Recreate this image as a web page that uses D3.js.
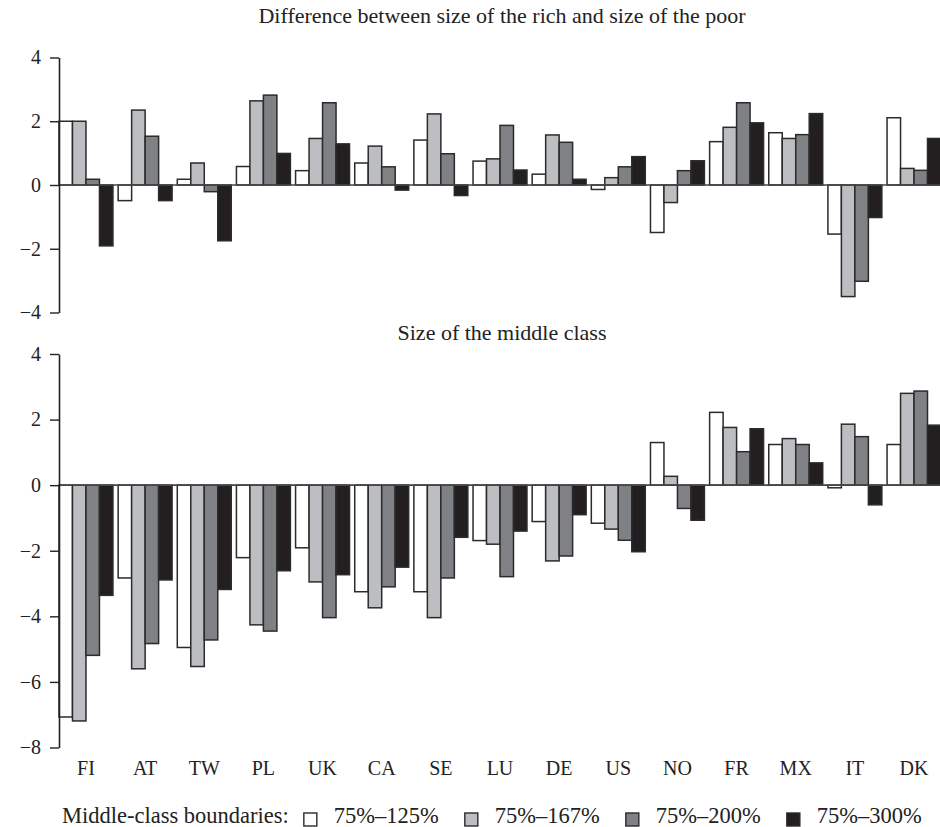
<!DOCTYPE html>
<html>
<head>
<meta charset="utf-8">
<script src="https://cdn.jsdelivr.net/npm/d3@7"></script>
<style>
  body { margin: 0; background: #fff; }
  text { font-family: 'Liberation Serif', 'DejaVu Serif', serif; fill: #222; }
</style>
</head>
<body>
<svg id="chart" width="940" height="827"></svg>
<script>
let countries = ['FI', 'AT', 'TW', 'PL', 'UK', 'CA', 'SE', 'LU', 'DE', 'US', 'NO', 'FR', 'MX', 'IT', 'DK']
let boundaries = ['75%–125%', '75%–167%', '75%–200%', '75%–300%']

// difference between size of the rich and size of the poor
let gap125 = [2.0, -0.49, 0.18, 0.58, 0.45, 0.69, 1.41, 0.75, 0.34, -0.14, -1.49, 1.36, 1.64, -1.54, 2.11]
let gap167 = [2.0, 2.35, 0.69, 2.64, 1.46, 1.22, 2.23, 0.82, 1.57, 0.23, -0.55, 1.81, 1.46, -3.50, 0.52]
let gap200 = [0.18, 1.53, -0.21, 2.82, 2.58, 0.57, 0.98, 1.87, 1.34, 0.57, 0.45, 2.58, 1.58, -3.02, 0.46]
let gap300 = [-1.91, -0.49, -1.75, 0.99, 1.29, -0.16, -0.33, 0.47, 0.18, 0.89, 0.76, 1.95, 2.24, -1.02, 1.46]

// size of the middle class
let mid125 = [-7.07, -2.83, -4.95, -2.21, -1.91, -3.25, -3.25, -1.69, -1.11, -1.16, 1.30, 2.22, 1.24, -0.08, 1.24]
let mid167 = [-7.19, -5.60, -5.53, -4.26, -2.95, -3.74, -4.04, -1.80, -2.31, -1.34, 0.27, 1.76, 1.42, 1.86, 2.80]
let mid200 = [-5.19, -4.83, -4.72, -4.45, -4.04, -3.10, -2.83, -2.79, -2.16, -1.68, -0.71, 1.02, 1.24, 1.48, 2.87]
let mid300 = [-3.36, -2.89, -3.18, -2.61, -2.73, -2.50, -1.59, -1.40, -0.90, -2.03, -1.07, 1.72, 0.68, -0.60, 1.83]

let topTicks = [-4, -2, 0, 2, 4]
let bottomTicks = [-8, -6, -4, -2, 0, 2, 4]

let fills = ['#ffffff', '#bdbec2', '#808185', '#231f20']
let strokeColor = '#2b2b2b'

let svg = d3.select('#chart')
let left = 59

let x = d3.scaleBand().domain(countries).range([left, 941]).paddingInner(0.088).paddingOuter(0)
let xs = d3.scaleBand().domain(d3.range(4)).range([0, x.bandwidth()])

function panel (series, yDomain, yRange, ticks, title, titleY) {
  let y = d3.scaleLinear().domain(yDomain).range(yRange)
  let g = svg.append('g')

  let rows = countries.map((c, i) => series.map((s, k) => ({ country: c, k: k, v: s[i] })))

  g.selectAll('.group')
    .data(rows)
    .enter()
    .append('g')
    .attr('class', 'group')
    .attr('transform', d => 'translate(' + x(d[0].country) + ',0)')
    .selectAll('rect')
    .data(d => d)
    .enter()
    .append('rect')
    .attr('x', d => xs(d.k))
    .attr('width', xs.bandwidth())
    .attr('y', d => y(Math.max(0, d.v)))
    .attr('height', d => Math.abs(y(d.v) - y(0)))
    .attr('fill', d => fills[d.k])
    .attr('stroke', strokeColor)
    .attr('stroke-width', 1.5)

  // zero line
  g.append('line')
    .attr('x1', left).attr('x2', 940)
    .attr('y1', y(0)).attr('y2', y(0))
    .attr('stroke', '#444')
    .attr('stroke-width', 1.6)

  let axis = d3.axisLeft(y).tickValues(ticks).tickSize(9).tickSizeOuter(0)
    .tickFormat(d => d < 0 ? '−' + Math.abs(d) : d)
  let ax = g.append('g').attr('transform', 'translate(' + left + ',0)').call(axis)
  ax.select('.domain').attr('stroke', '#222').attr('stroke-width', 1.6)
  ax.selectAll('.tick line').attr('stroke', '#222').attr('stroke-width', 1.4)
  ax.selectAll('.tick text')
    .attr('x', -18)
    .attr('fill', '#222')
    .style('font-family', "'Liberation Serif', serif")
    .style('font-size', '20px')

  svg.append('text')
    .attr('x', 502)
    .attr('y', titleY)
    .attr('text-anchor', 'middle')
    .style('font-size', '22px')
    .text(title)
  return y
}

panel([gap125, gap167, gap200, gap300], [-4, 4], [312.5, 57.5], topTicks,
  'Difference between size of the rich and size of the poor', 23)
panel([mid125, mid167, mid200, mid300], [-8, 4], [747.5, 354], bottomTicks,
  'Size of the middle class', 340)

// country labels
svg.append('g').selectAll('text')
  .data(countries)
  .enter()
  .append('text')
  .attr('x', d => x(d) + x.bandwidth() / 2)
  .attr('y', 775)
  .attr('text-anchor', 'middle')
  .style('font-size', '20px')
  .text(d => d)

// legend
let legend = svg.append('g').attr('transform', 'translate(62,823)')
let lx = legend.append('text').style('font-size', '22.5px').text('Middle-class boundaries:')
  .node().getComputedTextLength() + 15
boundaries.forEach((b, k) => {
  legend.append('rect')
    .attr('x', lx).attr('y', -10)
    .attr('width', 13).attr('height', 13)
    .attr('fill', fills[k])
    .attr('stroke', strokeColor)
    .attr('stroke-width', 1.4)
  let t = legend.append('text')
    .attr('x', lx + 30)
    .style('font-size', '22.5px')
    .text(b)
  lx += 30 + t.node().getComputedTextLength() + 26
})
</script>
</body>
</html>
